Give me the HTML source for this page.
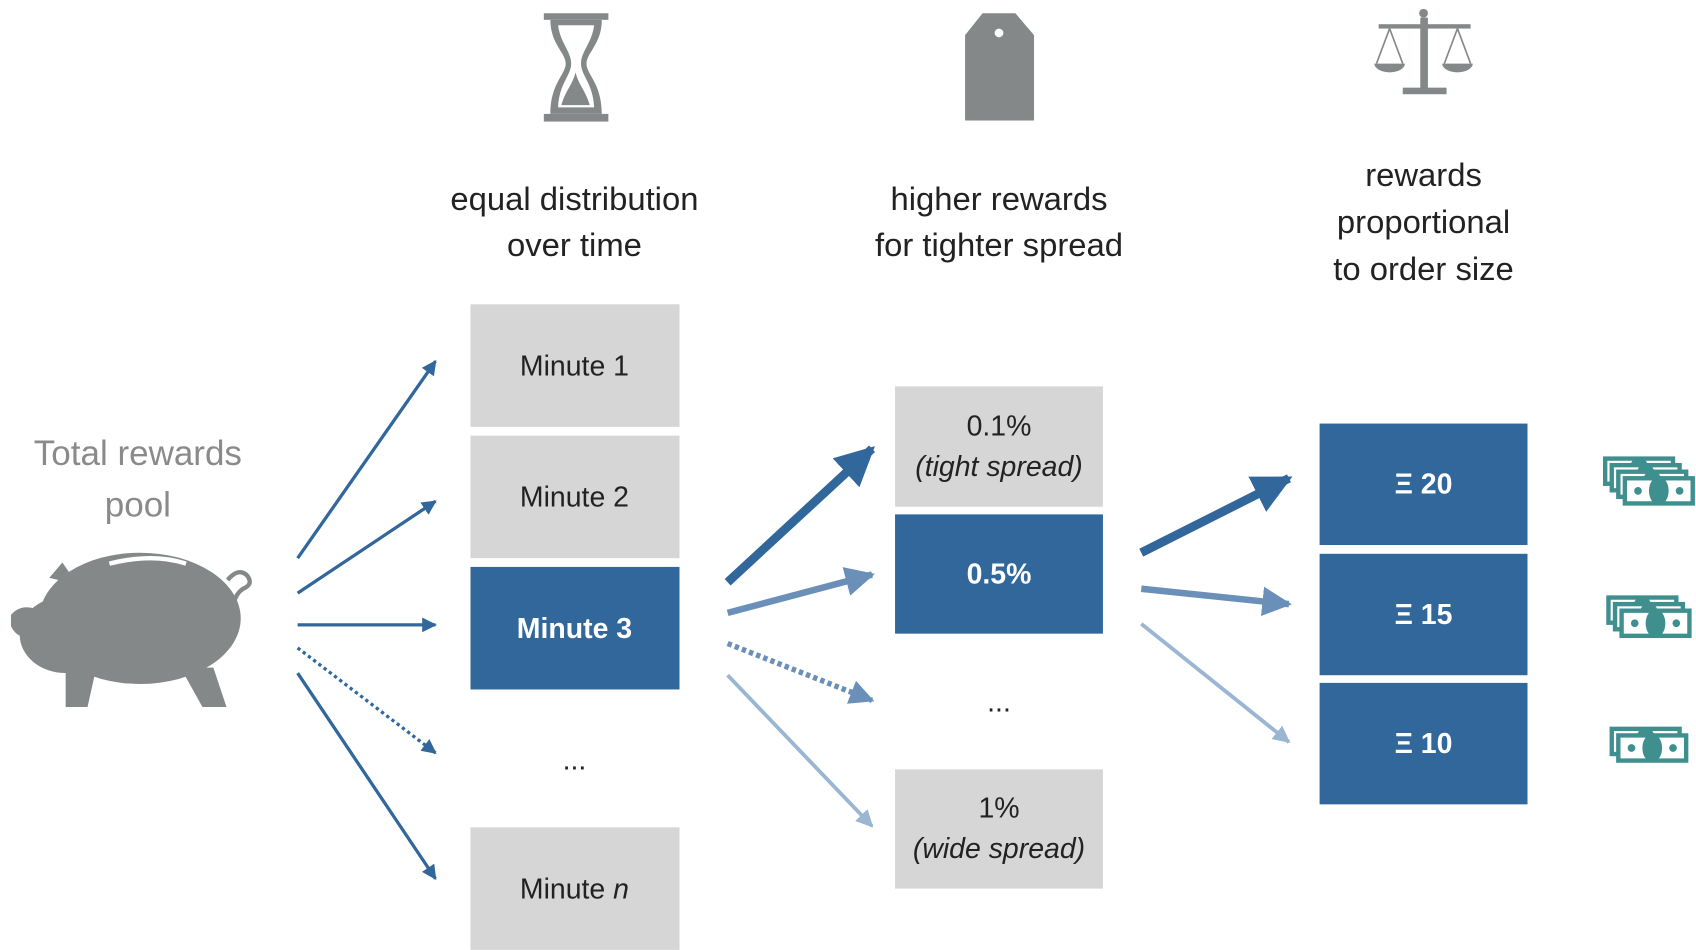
<!DOCTYPE html>
<html><head><meta charset="utf-8"><style>
html,body{margin:0;padding:0;background:#fff;}
svg{display:block}
text{font-family:"Liberation Sans",sans-serif;}
</style></head><body>
<svg width="1696" height="950" viewBox="0 0 1550 868" xmlns="http://www.w3.org/2000/svg">
<defs>
<marker id="md" viewBox="0 0 10 10" refX="9" refY="5" markerWidth="4.5" markerHeight="4.5" orient="auto"><path d="M0,0L10,5L0,10z" fill="#31679a"/></marker>
<marker id="mm" viewBox="0 0 10 10" refX="9" refY="5" markerWidth="4.5" markerHeight="4.5" orient="auto"><path d="M0,0L10,5L0,10z" fill="#6a90ba"/></marker>
<marker id="ml" viewBox="0 0 10 10" refX="9" refY="5" markerWidth="4.5" markerHeight="4.5" orient="auto"><path d="M0,0L10,5L0,10z" fill="#9ab6d2"/></marker>
<marker id="mt" viewBox="0 0 10 10" refX="9" refY="5" markerWidth="4.5" markerHeight="4.5" orient="auto"><path d="M0,0L10,5L0,10z" fill="#31679a"/></marker>
</defs>

<!-- icons -->
<g fill="#858889">
<rect x="497" y="12" width="59" height="6"/><rect x="497" y="104" width="59" height="7"/>
<path d="M503,18 h47 c0,22 -14,30 -14,40 c0,10 14,18 14,46 h-47 c0,-28 14,-36 14,-46 c0,-10 -14,-18 -14,-40z M510,23 c2,16 12,24 12,35 c0,11 -11,18 -12,40 h33 c-1,-22 -12,-29 -12,-40 c0,-11 10,-19 12,-35z" fill-rule="evenodd"/>
<path d="M513,96 c4,-14 10,-18 13,-30 c3,12 9,16 13,30z"/>
<path d="M898,12 h30 l17,20 v78 h-63 v-78z"/>
<circle cx="913" cy="30" r="4" fill="#fff"/>
<rect x="1298" y="16" width="7" height="66"/><circle cx="1301" cy="12" r="4"/>
<rect x="1260" y="22" width="84" height="4"/>
<rect x="1282" y="80" width="40" height="6"/>
<path d="M1256,58 h28 a14,8 0 0 1 -28,0z M1318,58 h28 a14,8 0 0 1 -28,0z"/>
<path d="M1270,26 l-12,32 M1270,26 l12,32 M1332,26 l-12,32 M1332,26 l12,32" stroke="#858889" stroke-width="1.5" fill="none"/>
</g>

<!-- headers -->
<g font-size="30" fill="#222" text-anchor="middle">
<text x="525" y="192">equal distribution</text><text x="525" y="234">over time</text>
<text x="913" y="192">higher rewards</text><text x="913" y="234">for tighter spread</text>
<text x="1301" y="170">rewards</text><text x="1301" y="213">proportional</text><text x="1301" y="256">to order size</text>
</g>
<g font-size="32" fill="#8a8a8a" text-anchor="middle">
<text x="126" y="425">Total rewards</text><text x="126" y="472">pool</text>
</g>

<!-- pig -->
<g fill="#858889">
<ellipse cx="128" cy="565" rx="92" ry="60"/>
<ellipse cx="60" cy="580" rx="42" ry="35"/>
<path d="M10,562 q8,-10 22,-6 l6,28 q-22,2 -28,-12z"/>
<path d="M45,528 l12,-14 l14,20z"/>
<path d="M60,610 l28,0 l-8,36 h-20z"/>
<path d="M165,610 l30,0 l12,36 h-22z"/>
<path d="M208,530 q10,-12 18,-4 q6,8 -4,12 q-6,4 -8,12" fill="none" stroke="#858889" stroke-width="4"/>
<path d="M100,515 q40,-10 70,0" stroke="#fff" stroke-width="4" fill="none"/>
</g>

<!-- boxes col1 -->
<g font-size="26" text-anchor="middle">
<rect x="430" y="278" width="191" height="112" fill="#d6d6d6"/><text x="525" y="343" fill="#222">Minute 1</text>
<rect x="430" y="398" width="191" height="112" fill="#d6d6d6"/><text x="525" y="463" fill="#222">Minute 2</text>
<rect x="430" y="518" width="191" height="112" fill="#31679a"/><text x="525" y="583" fill="#fff" font-weight="bold">Minute 3</text>
<text x="525" y="703" fill="#222">...</text>
<rect x="430" y="756" width="191" height="112" fill="#d6d6d6"/><text x="525" y="821" fill="#222">Minute <tspan font-style="italic">n</tspan></text>

<rect x="818" y="353" width="190" height="110" fill="#d6d6d6"/><text x="913" y="398" fill="#222">0.1%</text><text x="913" y="435" fill="#222" font-style="italic">(tight spread)</text>
<rect x="818" y="470" width="190" height="109" fill="#31679a"/><text x="913" y="533" fill="#fff" font-weight="bold">0.5%</text>
<text x="913" y="650" fill="#222">...</text>
<rect x="818" y="703" width="190" height="109" fill="#d6d6d6"/><text x="913" y="747" fill="#222">1%</text><text x="913" y="784" fill="#222" font-style="italic">(wide spread)</text>

<rect x="1206" y="387" width="190" height="111" fill="#31679a"/><text x="1301" y="451" fill="#fff" font-weight="bold">Ξ 20</text>
<rect x="1206" y="506" width="190" height="111" fill="#31679a"/><text x="1301" y="570" fill="#fff" font-weight="bold">Ξ 15</text>
<rect x="1206" y="624" width="190" height="111" fill="#31679a"/><text x="1301" y="688" fill="#fff" font-weight="bold">Ξ 10</text>
</g>

<!-- arrows col1 -->
<g stroke="#31679a" stroke-width="3" fill="none" marker-end="url(#md)">
<line x1="272" y1="510" x2="398" y2="330"/>
<line x1="272" y1="542" x2="398" y2="458"/>
<line x1="272" y1="571" x2="398" y2="571"/>
<line x1="272" y1="592" x2="398" y2="688" stroke-dasharray="3,3"/>
<line x1="272" y1="615" x2="398" y2="803"/>
</g>
<!-- col2 -->
<line x1="665" y1="532" x2="797" y2="410" stroke="#31679a" stroke-width="8" marker-end="url(#mt)"/>
<line x1="665" y1="560" x2="797" y2="525" stroke="#6a90ba" stroke-width="6" marker-end="url(#mm)"/>
<line x1="665" y1="588" x2="797" y2="640" stroke="#6a90ba" stroke-width="5" stroke-dasharray="4,3" marker-end="url(#mm)"/>
<line x1="665" y1="617" x2="797" y2="755" stroke="#9ab6d2" stroke-width="3.5" marker-end="url(#ml)"/>
<!-- col3 -->
<line x1="1043" y1="505" x2="1178" y2="437" stroke="#31679a" stroke-width="8" marker-end="url(#mt)"/>
<line x1="1043" y1="538" x2="1178" y2="552" stroke="#6a90ba" stroke-width="6" marker-end="url(#mm)"/>
<line x1="1043" y1="570" x2="1178" y2="678" stroke="#9ab6d2" stroke-width="3.5" marker-end="url(#ml)"/>

<!-- money -->
<defs>
<g id="bill"><rect width="66" height="27" fill="#3f8f8f"/><rect x="4" y="4" width="58" height="19" fill="#fff"/><ellipse cx="33" cy="13.5" rx="9" ry="13" fill="#3f8f8f"/><circle cx="14" cy="13.5" r="3.5" fill="#3f8f8f"/><circle cx="52" cy="13.5" r="3.5" fill="#3f8f8f"/></g>
</defs>
<use href="#bill" x="1465" y="417"/><use href="#bill" x="1471" y="423"/><use href="#bill" x="1477" y="429"/><use href="#bill" x="1483" y="435"/>
<use href="#bill" x="1468" y="544"/><use href="#bill" x="1474" y="550"/><use href="#bill" x="1480" y="556"/>
<use href="#bill" x="1471" y="664"/><use href="#bill" x="1477" y="670"/>
</svg>
</body></html>
